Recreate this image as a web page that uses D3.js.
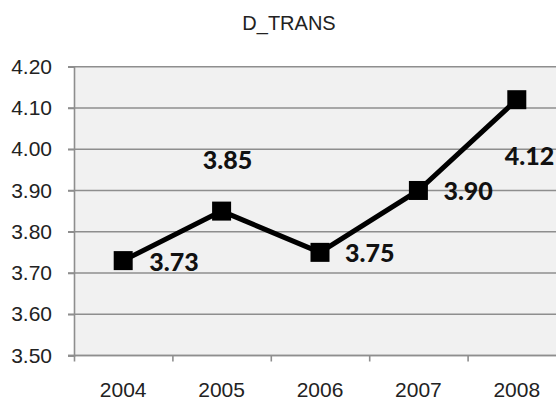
<!DOCTYPE html>
<html>
<head>
<meta charset="utf-8">
<script src="https://cdn.jsdelivr.net/npm/d3@7"></script>
<style>
  html, body { margin: 0; padding: 0; background: #fff; }
  svg { display: block; }
</style>
</head>
<body>
<svg id="chart" width="556" height="401"></svg>
<script>
// ---- data ----
const title = "D_TRANS";
const years = ["2004", "2005", "2006", "2007", "2008"];
const values = [3.73, 3.85, 3.75, 3.90, 4.12];
const yTicks = [3.50, 3.60, 3.70, 3.80, 3.90, 4.00, 4.10, 4.20];

// ---- label placement (layout config) ----
const labelPlacement = [
  { dx: 26, dy: 10, anchor: "start" },
  { dx: 6, dy: -42, anchor: "middle" },
  { dx: 25, dy: 10, anchor: "start" },
  { dx: 25, dy: 10, anchor: "start" },
  { dx: -12, dy: 65, anchor: "start" }
];

const svg = d3.select("#chart");
const plot = { left: 74, right: 566, top: 66.7, bottom: 355.5 };

const x = d3.scaleBand().domain(years).range([plot.left, plot.right]).padding(0);
const y = d3.scaleLinear().domain([3.5, 4.2]).range([plot.bottom, plot.top]);

// plot background
svg.append("rect")
  .attr("x", plot.left).attr("y", plot.top)
  .attr("width", plot.right - plot.left).attr("height", plot.bottom - plot.top)
  .attr("fill", "#f1f1f1");

// gridlines
svg.append("g").selectAll("line").data(yTicks).join("line")
  .attr("x1", plot.left - 6).attr("x2", plot.right)
  .attr("y1", d => y(d)).attr("y2", d => y(d))
  .attr("stroke", "#8e8e8e").attr("stroke-width", 1.6);

// y axis
const yAxis = d3.axisLeft(y).tickValues(yTicks).tickFormat(d3.format(".2f"))
  .tickSize(6).tickPadding(16);
const gy = svg.append("g").attr("transform", `translate(${plot.left},0)`).call(yAxis);
gy.select(".domain").attr("stroke", "#8e8e8e").attr("stroke-width", 1.6);
gy.selectAll(".tick line").attr("stroke", "#8e8e8e").attr("stroke-width", 1.6);
gy.selectAll("text").attr("font-family", "Liberation Sans, Arial, sans-serif")
  .attr("font-size", 21).attr("fill", "#222");

// x axis: tick marks at category boundaries, labels at centers
const xb = d3.scaleLinear().domain([0, years.length]).range([plot.left, plot.right]);
const gx = svg.append("g").attr("transform", `translate(0,${plot.bottom})`)
  .call(d3.axisBottom(xb).ticks(years.length).tickSize(6).tickFormat(""));
gx.select(".domain").remove();
gx.selectAll(".tick line").attr("stroke", "#8e8e8e").attr("stroke-width", 1.6);
svg.append("line")
  .attr("x1", plot.left - 6).attr("x2", plot.right)
  .attr("y1", plot.bottom).attr("y2", plot.bottom)
  .attr("stroke", "#8e8e8e").attr("stroke-width", 1.6);

svg.append("g").selectAll("text").data(years).join("text")
  .attr("x", d => x(d) + x.bandwidth() / 2)
  .attr("y", 397)
  .attr("text-anchor", "middle")
  .attr("font-family", "Liberation Sans, Arial, sans-serif")
  .attr("font-size", 21).attr("fill", "#222")
  .text(d => d);

// title
svg.append("text")
  .attr("x", 289).attr("y", 30)
  .attr("text-anchor", "middle")
  .attr("font-family", "Liberation Sans, Arial, sans-serif")
  .attr("font-size", 20).attr("fill", "#222")
  .text(title);

// line
const pts = years.map((yr, i) => ({ yr, v: values[i], i }));
const line = d3.line().x(d => x(d.yr) + x.bandwidth() / 2).y(d => y(d.v));
svg.append("path").datum(pts)
  .attr("d", line).attr("fill", "none")
  .attr("stroke", "#000").attr("stroke-width", 5).attr("stroke-linejoin", "miter");

// markers
const ms = 19;
svg.append("g").selectAll("rect").data(pts).join("rect")
  .attr("x", d => x(d.yr) + x.bandwidth() / 2 - ms / 2)
  .attr("y", d => y(d.v) - ms / 2)
  .attr("width", ms).attr("height", ms)
  .attr("fill", "#000");

// data labels
svg.append("g").selectAll("text").data(pts).join("text")
  .attr("x", d => x(d.yr) + x.bandwidth() / 2 + labelPlacement[d.i].dx)
  .attr("y", d => y(d.v) + labelPlacement[d.i].dy)
  .attr("text-anchor", d => labelPlacement[d.i].anchor)
  .attr("font-family", "Lato, 'Open Sans', sans-serif")
  .attr("font-weight", "900")
  .attr("font-size", 25).attr("fill", "#111")
  .text(d => d3.format(".2f")(d.v));
</script>
</body>
</html>
